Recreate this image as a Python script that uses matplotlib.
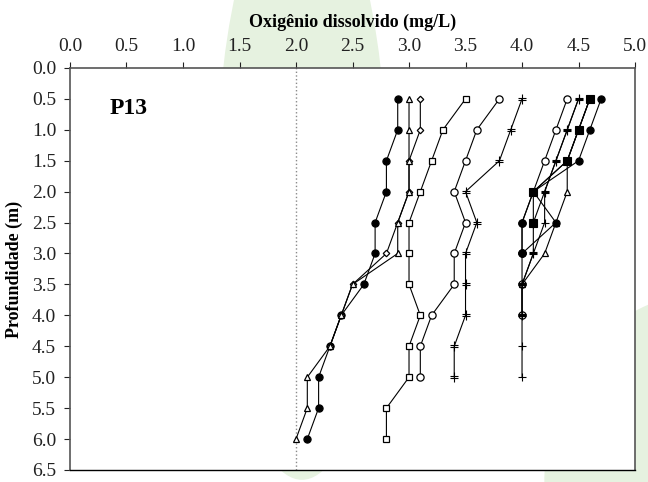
import numpy as np
import matplotlib.pyplot as plt
from matplotlib.patches import Ellipse
from matplotlib.path import Path

plt.rcParams['font.family'] = ['Liberation Serif', 'DejaVu Serif']

# profundidades de coleta (m)
depth = [0.5, 1.0, 1.5, 2.0, 2.5, 3.0, 3.5, 4.0, 4.5, 5.0, 5.5, 6.0]

# OD (mg/L) por campanha - grupo mais baixo
od_circ_cheio_a = [2.9, 2.9, 2.8, 2.8, 2.7, 2.7, 2.6, 2.4, 2.3, 2.2, 2.2, 2.1]
od_tri_a = [3.0, 3.0, 3.0, 3.0, 2.9, 2.9, 2.5, 2.4, 2.3, 2.1, 2.1, 2.0]
od_losango = [3.1, 3.1, 3.0, 3.0, 2.9, 2.8, 2.5, 2.4, 2.3]

# grupo intermediario
od_quad_aberto = [3.5, 3.3, 3.2, 3.1, 3.0, 3.0, 3.0, 3.1, 3.0, 3.0, 2.8, 2.8]
od_circ_aberto_b = [3.8, 3.6, 3.5, 3.4, 3.5, 3.4, 3.4, 3.2, 3.1, 3.1]
od_estrela_b = [4.0, 3.9, 3.8, 3.5, 3.6, 3.5, 3.5, 3.5, 3.4, 3.4]

# grupo mais alto
od_circ_aberto_c = [4.4, 4.3, 4.2, 4.1, 4.0, 4.0, 4.0, 4.0]
od_tri_c = [4.6, 4.5, 4.4, 4.4, 4.3, 4.2, 4.0]
od_circ_cheio_d = [4.6, 4.5, 4.4, 4.1, 4.3, 4.0]
od_circ_cheio_c = [4.7, 4.6, 4.5, 4.1, 4.0, 4.0]
od_quad_cheio = [4.6, 4.5, 4.4, 4.1, 4.1]
od_estrela_c = [4.5, 4.4, 4.3, 4.2, 4.1, 4.1, 4.0, 4.0]
od_cruz = [4.5, 4.4, 4.3, 4.2, 4.2, 4.1, 4.0, 4.0, 4.0, 4.0]

x_ticks = np.arange(0, 5.01, 0.5)
y_ticks = np.arange(0, 6.51, 0.5)

# marcador "estrela" tipo planilha: haste vertical com dois tracos
estrela = Path([(0, -1), (0, 1), (-0.8, 0.3), (0.8, 0.3), (-0.8, -0.3), (0.8, -0.3)],
               [Path.MOVETO, Path.LINETO, Path.MOVETO, Path.LINETO,
                Path.MOVETO, Path.LINETO])

series = [
    (od_circ_cheio_a, 'o', 'black', 5.2),
    (od_losango, 'D', 'white', 3.3),
    (od_tri_a, '^', 'white', 5.0),
    (od_quad_aberto, 's', 'white', 4.6),
    (od_circ_aberto_b, 'o', 'white', 5.2),
    (od_estrela_b, estrela, 'black', 6.5),
    (od_circ_aberto_c, 'o', 'white', 5.2),
    (od_tri_c, '^', 'white', 5.0),
    (od_circ_cheio_d, 'o', 'black', 5.2),
    (od_circ_cheio_c, 'o', 'black', 5.2),
    (od_quad_cheio, 's', 'black', 5.6),
    (od_estrela_c, estrela, 'black', 6.5),
    (od_cruz, '+', 'black', 6.0),
]

fig = plt.figure(figsize=(6.48, 4.82), dpi=100)

# marca d'agua verde ao fundo
fig.patches.append(Ellipse((0.466, 0.627), 0.262, 1.245, transform=fig.transFigure,
                           facecolor='#e6f2e0', edgecolor='none', zorder=-1))
fig.patches.append(Ellipse((1.08, 0.0), 0.48, 0.78, transform=fig.transFigure,
                           facecolor='#e6f2e0', edgecolor='none', zorder=-1))

ax = fig.add_axes([0.108, 0.025, 0.872, 0.834])
ax.set_zorder(1)

for valores, mk, cor, tam in series:
    d = depth[:len(valores)]
    ax.plot(valores, d, color='black', lw=0.8, marker=mk, ms=tam,
            mfc=cor, mec='black', mew=0.9 if cor == 'white' else 0.8)

ax.axvline(2.0, color='#8a8a8a', ls=':', lw=1.0, zorder=0)

ax.set_xlim(0, 5)
ax.set_ylim(6.5, 0)
ax.set_xticks(x_ticks)
ax.set_yticks(y_ticks)
ax.set_xticklabels([f'{v:.1f}' for v in x_ticks])
ax.set_yticklabels([f'{v:.1f}' for v in y_ticks])
ax.xaxis.tick_top()
ax.xaxis.set_label_position('top')
ax.tick_params(axis='both', direction='out', length=4, width=0.8,
               labelsize=14, colors='#222222')
ax.tick_params(axis='x', pad=5)
ax.tick_params(axis='y', pad=6)

for lado in ['left', 'right', 'top']:
    ax.spines[lado].set_color('#555555')
    ax.spines[lado].set_linewidth(1.2)
ax.spines['bottom'].set_color('black')
ax.spines['bottom'].set_linewidth(1.0)

ax.set_xlabel('Oxigênio dissolvido (mg/L)', fontsize=13, fontweight='bold', labelpad=8)
ax.set_ylabel('Profundidade (m)', fontsize=13, fontweight='bold', labelpad=6)
ax.text(0.07, 0.9, 'P13', transform=ax.transAxes, fontsize=17, fontweight='bold',
        va='center', ha='left')

fig.savefig('out.png', dpi=100)
